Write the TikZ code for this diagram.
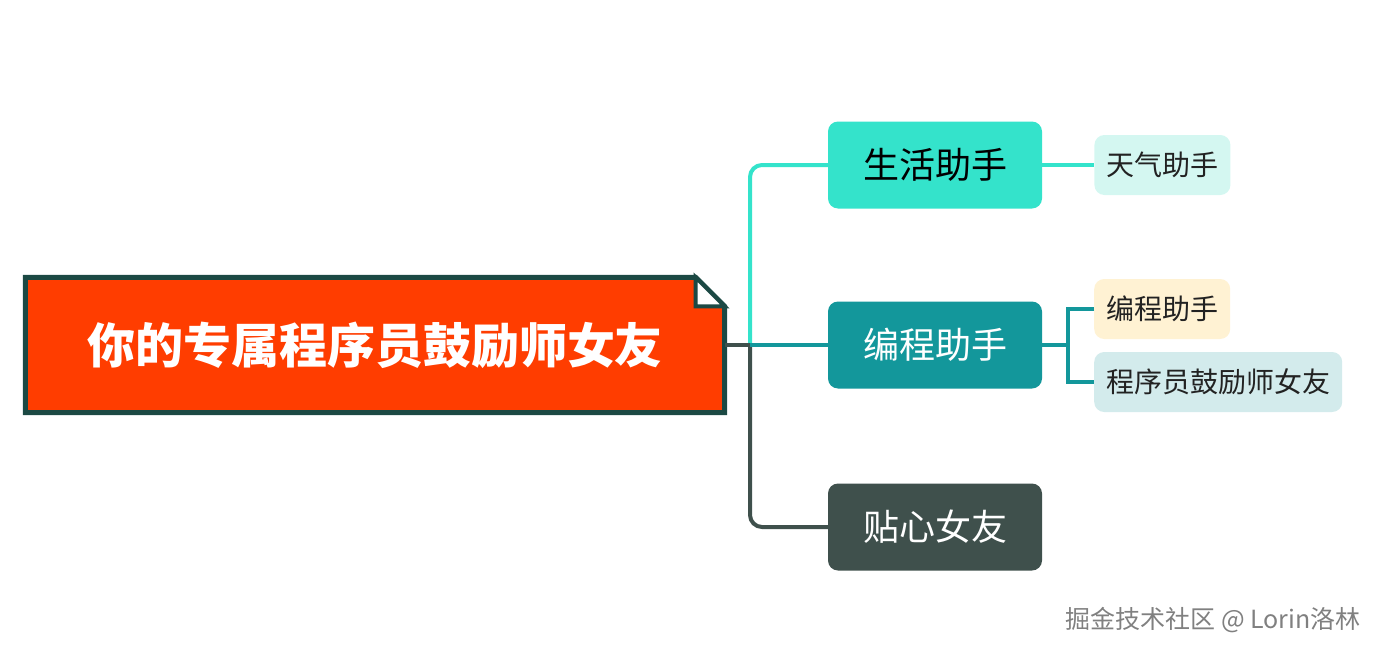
\documentclass[tikz,border=0pt]{standalone}
\usepackage{fontspec}
\newfontfamily\cjk{Noto Sans CJK SC}
\usetikzlibrary{positioning,calc}

\definecolor{rootred}{HTML}{FF3D00}
\definecolor{rootedge}{HTML}{1C4944}
\definecolor{aqua}{HTML}{34E3CB}
\definecolor{teal}{HTML}{13979B}
\definecolor{slate}{HTML}{3F504C}
\definecolor{aqualight}{HTML}{D4F7F1}
\definecolor{cream}{HTML}{FFF2D3}
\definecolor{teallight}{HTML}{D3EBEC}
\definecolor{subtext}{HTML}{222222}

\begin{document}
\begin{tikzpicture}[x=1pt, y=-1pt,
    topic/.style={rounded corners=10pt, minimum width=214pt, minimum height=87pt,
      inner sep=0pt, font=\cjk\fontsize{36}{40}\selectfont},
    subtopic/.style={rounded corners=10pt, anchor=west, minimum height=60pt,
      inner xsep=12pt, inner ysep=0pt, text=subtext, font=\cjk\fontsize{28}{32}\selectfont},
    link/.style={line width=4pt, rounded corners=12pt},
    sublink/.style={line width=3.5pt}]

    % canvas
    \useasboundingbox (0,0) rectangle (1382,653);

    % Root topic (folded note)
    \node[fill=rootred, minimum width=699pt, minimum height=135pt, inner sep=0pt,
      text=white, font=\cjk\bfseries\fontsize{48}{52}\selectfont] (root) at (375,345)
      {你的专属程序员鼓励师女友};
    \fill[white] ([xshift=-29pt]root.north east) -- ([xshift=3pt,yshift=3pt]root.north east)
      -- ([yshift=-29pt]root.north east) -- cycle;
    \draw[rootedge, line width=5pt, line join=miter]
      (root.north west) -- ([xshift=-29pt]root.north east) -- ([yshift=-29pt]root.north east)
      -- (root.south east) -- (root.south west) -- cycle;
    \draw[rootedge, fill=white, line width=4pt, line join=miter]
      ([xshift=-29pt]root.north east) -- ([xshift=-29pt,yshift=-29pt]root.north east)
      -- ([yshift=-29pt]root.north east) -- cycle;

    % Main topics
    \node[topic, fill=aqua] (life) at (935,165) {生活助手};
    \node[topic, fill=teal, text=white] (code) at (935,345) {编程助手};
    \node[topic, fill=slate, text=white] (love) at (935,527) {贴心女友};

    % Sub topics
    \node[subtopic, fill=aqualight, right=52pt of life] (weather) {天气助手};
    \node[subtopic, fill=cream] (codehelp) at (1094,309) {编程助手};
    \node[subtopic, fill=teallight] (cheer) at (1094,382) {程序员鼓励师女友};

    % Branches from the root
    \coordinate (hub) at (750,345);
    \draw[link, slate] (hub) |- (love.west);
    \draw[link, aqua] (hub) |- (life.west);
    \draw[link, slate, rounded corners=0pt] (root.east) -- (hub);
    \draw[link, teal] (hub) -- (code.west);

    % Branches to sub topics
    \coordinate (split) at (1068,345);
    \draw[sublink, aqua] (life.east) -- (weather.west);
    \draw[sublink, teal] (code.east) -- (split);
    \draw[sublink, teal] (codehelp.west) -| (split) |- (cheer.west);

    % Watermark
    \node[text=gray, font=\cjk\fontsize{25}{28}\selectfont] (credit) at (1213,620)
      {掘金技术社区 @ Lorin洛林};
\end{tikzpicture}
\end{document}
